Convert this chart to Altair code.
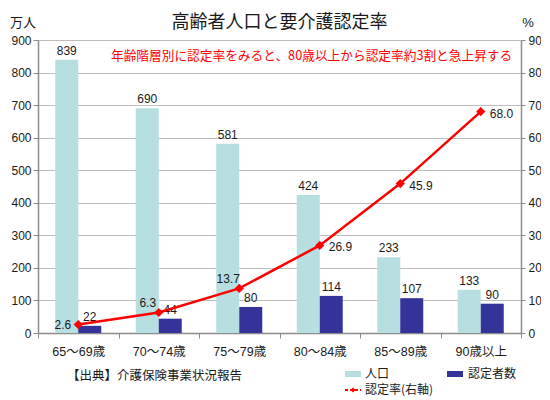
import altair as alt
import pandas as pd

categories = ["65～69歳", "70～74歳", "75～79歳", "80～84歳", "85～89歳", "90歳以上"]
population = [839, 690, 581, 424, 233, 133]
certified = [22, 44, 80, 114, 107, 90]
rate = [2.6, 6.3, 13.7, 26.9, 45.9, 68.0]
series_names = ["人口", "認定者数"]
rate_name = "認定率(右軸)"
left_ticks = list(range(0, 901, 100))
right_ticks = list(range(0, 91, 10))

title_text = "高齢者人口と要介護認定率"
note_text = "年齢階層別に認定率をみると、80歳以上から認定率約3割と急上昇する"
source_text = "【出典】介護保険事業状況報告"
left_unit = "万人"
right_unit = "%"

CJK = "Noto Sans CJK JP"
NUM = "Liberation Sans, Noto Sans CJK JP"
GRID = "#bdbdbd"
AXC = "#8c8c8c"
TXT = "#1a1a1a"
C_POP = "#b7dee1"
C_CERT = "#333399"
RED = "#ff0000"

W, H = 483, 293

bar_rows = []
for c, p, k in zip(categories, population, certified):
    bar_rows.append({"cat": c, "series": series_names[0], "value": p})
    bar_rows.append({"cat": c, "series": series_names[1], "value": k})
bar_df = pd.DataFrame(bar_rows)
rate_df = pd.DataFrame({"cat": categories, "rate": rate, "i": list(range(len(rate)))})

X = alt.X(
    "cat:N", sort=categories,
    scale=alt.Scale(domain=categories, paddingInner=0, paddingOuter=0),
    axis=alt.Axis(title=None, labelAngle=0, tickBand="extent", domainColor=AXC, domainWidth=1.5,
                  tickColor=AXC, tickSize=5, labelPadding=7, labelFont=NUM, labelFontSize=12.5,
                  labelColor=TXT, grid=False),
)
XO = alt.XOffset("series:N", scale=alt.Scale(domain=series_names, paddingInner=0, paddingOuter=0.75))
YL = alt.Y(
    "value:Q", scale=alt.Scale(domain=[0, 900], nice=False),
    axis=alt.Axis(title=None, values=left_ticks, grid=True, gridColor=GRID, domainColor=AXC,
                  domainWidth=1.5, tickColor=AXC, tickSize=5, labelPadding=2, labelFont=NUM,
                  labelFontSize=12, labelColor=TXT),
)
YR = alt.Y(
    "rate:Q", scale=alt.Scale(domain=[0, 90], nice=False),
    axis=alt.Axis(title=None, orient="right", values=right_ticks, grid=False, domainColor=AXC,
                  domainWidth=1.5, tickColor=AXC, tickSize=4, labelPadding=3, labelFont=NUM,
                  labelFontSize=12, labelColor=TXT),
)
COL = alt.Color("series:N", scale=alt.Scale(domain=series_names, range=[C_POP, C_CERT]), legend=None)

bars = alt.Chart(bar_df).mark_bar().encode(x=X, xOffset=XO, y=YL, color=COL)
bar_text = alt.Chart(bar_df).mark_text(baseline="bottom", dy=-2, font=NUM, fontSize=12, color=TXT).encode(
    x=X, xOffset=XO, y=YL, text=alt.Text("value:Q"))
bar_group = alt.layer(bars, bar_text)

line = alt.Chart(rate_df).mark_line(color=RED, strokeWidth=2.5).encode(x=X, y=YR)
pts = alt.Chart(rate_df).mark_point(shape="diamond", filled=True, color=RED, size=85, opacity=1).encode(x=X, y=YR)
lab_style = dict(font=NUM, fontSize=12, color=TXT, baseline="middle")
t_a = alt.Chart(rate_df).transform_filter("datum.i == 0").mark_text(align="right", dx=-7, dy=0, **lab_style).encode(
    x=X, y=YR, text=alt.Text("rate:Q", format=".1f"))
t_b = alt.Chart(rate_df).transform_filter("datum.i == 1 || datum.i == 2").mark_text(align="center", dx=-11, dy=-9, **lab_style).encode(
    x=X, y=YR, text=alt.Text("rate:Q", format=".1f"))
t_c = alt.Chart(rate_df).transform_filter("datum.i >= 3").mark_text(align="left", dx=9, dy=2, **lab_style).encode(
    x=X, y=YR, text=alt.Text("rate:Q", format=".1f"))
line_group = alt.layer(line, pts, t_a, t_b, t_c)

one = pd.DataFrame({"k": [0]})

def label(text, x, y, size=12, color=TXT, align="left", font=CJK):
    return alt.Chart(pd.DataFrame({"t": [text]})).mark_text(
        align=align, baseline="middle", font=font, fontSize=size, color=color
    ).encode(text="t:N", x=alt.value(x), y=alt.value(y))

title = label(title_text, W / 2, -17, size=18, align="center")
unit_l = label(left_unit, -15, -17, size=13, align="center")
unit_r = label(right_unit, W + 7, -17, size=13, align="center", font=NUM)
note = label(note_text, 73, 16, size=12.7, color=RED)
source = label(source_text, 29, 336, size=12.5)

leg_pop = alt.Chart(one).mark_rect(color=C_POP).encode(
    x=alt.value(307), x2=alt.value(323), y=alt.value(331), y2=alt.value(337))
leg_pop_t = label(series_names[0], 327, 334, size=12)
leg_cert = alt.Chart(one).mark_rect(color=C_CERT).encode(
    x=alt.value(409), x2=alt.value(425), y=alt.value(331), y2=alt.value(337))
leg_cert_t = label(series_names[1], 430, 334, size=12)
leg_line = alt.Chart(one).mark_rule(color=RED, strokeWidth=2, strokeDash=[3, 2]).encode(
    x=alt.value(307), x2=alt.value(323), y=alt.value(350))
leg_pt = alt.Chart(one).mark_point(shape="diamond", filled=True, color=RED, size=25, opacity=1).encode(
    x=alt.value(315), y=alt.value(350))
leg_line_t = label(rate_name, 327, 350, size=12)

chart = alt.layer(
    bar_group, line_group,
    title, unit_l, unit_r, note, source,
    leg_pop, leg_pop_t, leg_cert, leg_cert_t, leg_line, leg_pt, leg_line_t,
).resolve_scale(y="independent").properties(
    width=W, height=H,
    padding={"left": 30, "top": 32, "right": 20, "bottom": 70},
    autosize=alt.AutoSizeParams(type="none"),
    background="white",
).configure_view(stroke=None)

chart.save("out.html", embed_options={"renderer": "svg", "actions": False})
